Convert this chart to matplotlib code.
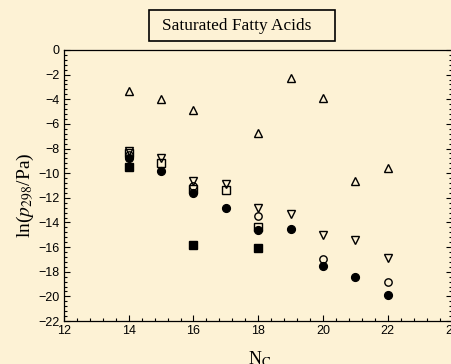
import matplotlib.pyplot as plt
from matplotlib.patches import Rectangle
from matplotlib.ticker import MultipleLocator

plt.rcParams["mathtext.fontset"] = "stix"

# carbon number N_C and ln(p298/Pa) for each data set
nc_tri_up = [14, 15, 16, 18, 19, 20, 21, 22]
ln_tri_up = [-3.3, -4.0, -4.85, -6.75, -2.3, -3.9, -10.6, -9.6]

nc_tri_down = [14, 15, 16, 17, 18, 19, 20, 21, 22]
ln_tri_down = [-8.2, -8.8, -10.6, -10.9, -12.8, -13.3, -15.0, -15.4, -16.9]

nc_sq_open = [14, 15, 16, 17, 18]
ln_sq_open = [-8.35, -9.2, -11.3, -11.4, -14.4]

nc_circ_open = [14, 16, 18, 20, 22]
ln_circ_open = [-8.5, -11.0, -13.5, -17.0, -18.8]

nc_circ_fill = [14, 15, 16, 17, 18, 19, 20, 21, 22]
ln_circ_fill = [-8.75, -9.8, -11.6, -12.8, -14.6, -14.5, -17.5, -18.4, -19.9]

nc_sq_fill = [14, 16, 18]
ln_sq_fill = [-9.5, -15.8, -16.1]

bg = "#fdf2d5"
fig = plt.figure(figsize=(4.52, 3.64), dpi=100, facecolor=bg)
ax = fig.add_axes([64 / 452, 1 - 321 / 364, 388.5 / 452, 271 / 364])
ax.set_facecolor(bg)

ms = 5.3
ax.plot(nc_tri_up, ln_tri_up, "^", ms=ms, mfc="none", mec="black", mew=1.0)
ax.plot(nc_tri_down, ln_tri_down, "v", ms=ms, mfc="none", mec="black", mew=1.0)
ax.plot(nc_circ_open, ln_circ_open, "o", ms=ms, mfc="none", mec="black", mew=1.0)
ax.plot(nc_sq_open, ln_sq_open, "s", ms=ms, mfc="none", mec="black", mew=1.0)
ax.plot(nc_circ_fill, ln_circ_fill, "o", ms=5.6, mfc="black", mec="black")
ax.plot(nc_sq_fill, ln_sq_fill, "s", ms=5.2, mfc="black", mec="black")

ax.set_xlim(12, 24)
ax.set_ylim(-22, 0)
ax.xaxis.set_major_locator(MultipleLocator(2))
ax.xaxis.set_minor_locator(MultipleLocator(0.4))
ax.yaxis.set_major_locator(MultipleLocator(2))
ax.yaxis.set_minor_locator(MultipleLocator(0.4))
ax.tick_params(which="both", direction="in", top=False, right=True,
               labelfontfamily="Liberation Sans", labelsize=9, pad=3)
ax.tick_params(which="major", length=4, width=0.8)
ax.tick_params(which="minor", length=2.5, width=0.8)
for s in ax.spines.values():
    s.set_linewidth(0.9)

fig.text(25 / 452, 1 - 195 / 364, r"ln($p_{298}$/Pa)", rotation=90,
         ha="center", va="center", family="Liberation Serif", fontsize=14)
fig.text(260 / 452, 1 - 359 / 364, r"N$_{\rm C}$", ha="center", va="center",
         family="Liberation Serif", fontsize=13)

fig.patches.append(Rectangle((149 / 452, 1 - 41 / 364), 186 / 452, 31 / 364,
                             transform=fig.transFigure, fill=False,
                             edgecolor="black", linewidth=1.2))
fig.text(237 / 452, 1 - 26 / 364, "Saturated Fatty Acids", ha="center",
         va="center", family="Liberation Serif", fontsize=12.4)

fig.savefig("out.png", dpi=100, facecolor=bg)
